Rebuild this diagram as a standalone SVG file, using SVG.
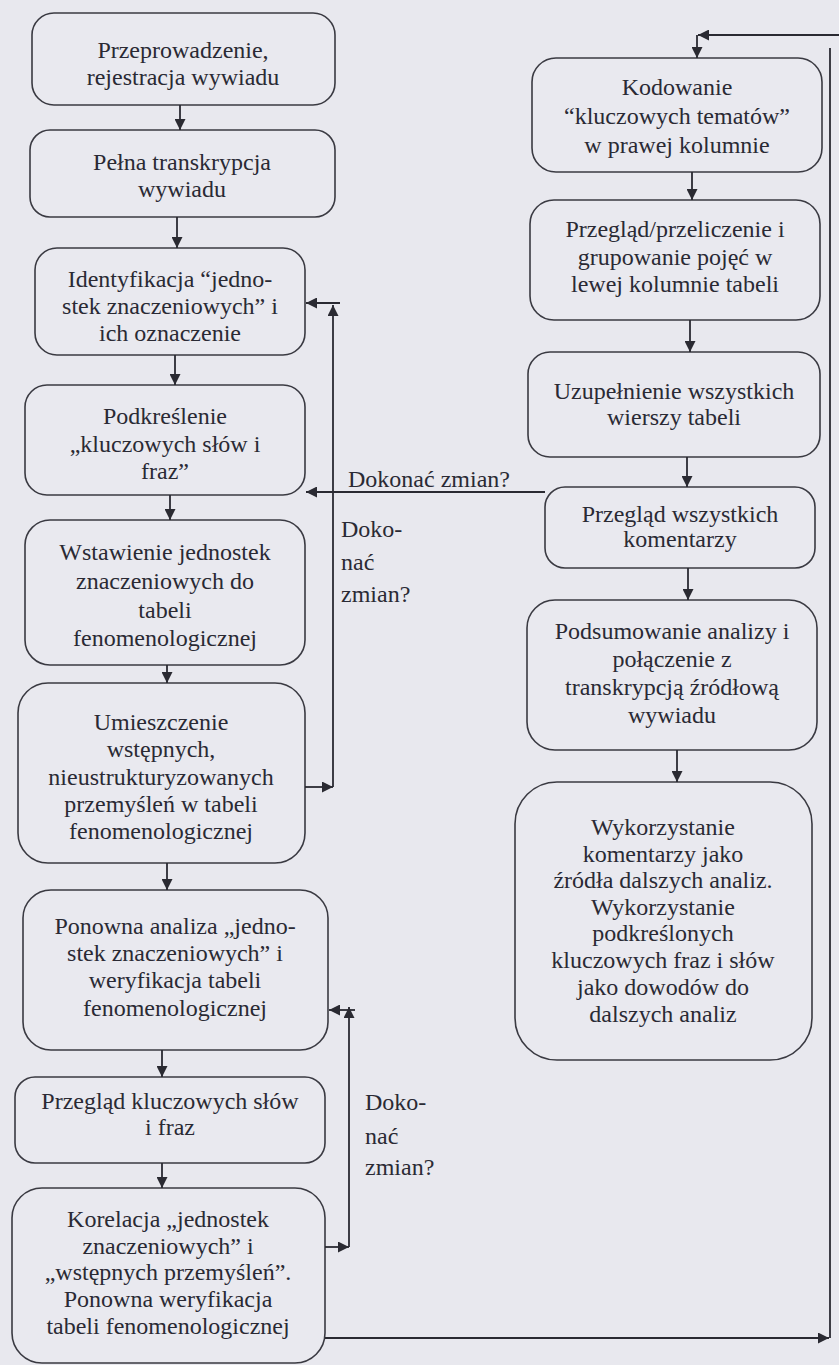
<svg xmlns="http://www.w3.org/2000/svg" width="839" height="1365" viewBox="0 0 839 1365">
<defs>
<style>
.box{fill:#e9e9ef;stroke:#3a3a42;stroke-width:1.6}
.t{font-family:"Liberation Serif","Times New Roman",serif;font-size:24px;fill:#2a2a34;text-anchor:middle}
.l{font-family:"Liberation Serif","Times New Roman",serif;font-size:24px;fill:#2a2a34}
.c{fill:none;stroke:#2a2a32;stroke-width:1.8}
</style>
<marker id="ah" viewBox="0 0 10 10" refX="10" refY="5" markerWidth="11" markerHeight="11" markerUnits="userSpaceOnUse" orient="auto">
<path d="M0,0 L10,5 L0,10 Z" fill="#2a2a32"/>
</marker>
</defs>
<rect width="839" height="1365" fill="#e8e8ee"/>

<g id="n1"><rect class="box" x="32" y="13" width="303" height="92" rx="22"/>
<text class="t" x="183" y="58">Przeprowadzenie,</text><text class="t" x="183" y="85">rejestracja wywiadu</text></g>

<g id="n2"><rect class="box" x="30" y="130" width="305" height="87" rx="20"/>
<text class="t" x="182" y="170">Pełna transkrypcja</text><text class="t" x="182" y="197">wywiadu</text></g>

<g id="n3"><rect class="box" x="35" y="248" width="270" height="107" rx="22"/>
<text class="t" x="170" y="287">Identyfikacja “jedno-</text><text class="t" x="170" y="314">stek znaczeniowych” i</text><text class="t" x="170" y="341">ich oznaczenie</text></g>

<g id="n4"><rect class="box" x="25" y="385" width="280" height="110" rx="22"/>
<text class="t" x="165" y="424">Podkreślenie</text><text class="t" x="165" y="452">„kluczowych słów i</text><text class="t" x="165" y="479">fraz”</text></g>

<g id="n5"><rect class="box" x="25" y="520" width="280" height="145" rx="25"/>
<text class="t" x="165" y="560">Wstawienie jednostek</text><text class="t" x="165" y="589">znaczeniowych do</text><text class="t" x="165" y="618">tabeli</text><text class="t" x="165" y="646">fenomenologicznej</text></g>

<g id="n6"><rect class="box" x="18" y="683" width="287" height="180" rx="30"/>
<text class="t" x="161" y="730">Umieszczenie</text><text class="t" x="161" y="757">wstępnych,</text><text class="t" x="161" y="785">nieustrukturyzowanych</text><text class="t" x="161" y="812">przemyśleń w tabeli</text><text class="t" x="161" y="839">fenomenologicznej</text></g>

<g id="n7"><rect class="box" x="23" y="890" width="305" height="160" rx="28"/>
<text class="t" x="175" y="934">Ponowna analiza „jedno-</text><text class="t" x="175" y="961">stek znaczeniowych” i</text><text class="t" x="175" y="988">weryfikacja tabeli</text><text class="t" x="175" y="1016">fenomenologicznej</text></g>

<g id="n8"><rect class="box" x="15" y="1077" width="310" height="86" rx="20"/>
<text class="t" x="170" y="1109">Przegląd kluczowych słów</text><text class="t" x="170" y="1135">i fraz</text></g>

<g id="n9"><rect class="box" x="12" y="1188" width="313" height="175" rx="30"/>
<text class="t" x="168" y="1227">Korelacja „jednostek</text><text class="t" x="168" y="1254">znaczeniowych” i</text><text class="t" x="168" y="1280">„wstępnych przemyśleń”.</text><text class="t" x="168" y="1307">Ponowna weryfikacja</text><text class="t" x="168" y="1334">tabeli fenomenologicznej</text></g>

<g id="r1"><rect class="box" x="532" y="58" width="290" height="114" rx="24"/>
<text class="t" x="677" y="95">Kodowanie</text><text class="t" x="677" y="124">“kluczowych tematów”</text><text class="t" x="677" y="153">w prawej kolumnie</text></g>

<g id="r2"><rect class="box" x="530" y="200" width="290" height="120" rx="24"/>
<text class="t" x="675" y="237">Przegląd/przeliczenie i</text><text class="t" x="675" y="265">grupowanie pojęć w</text><text class="t" x="675" y="292">lewej kolumnie tabeli</text></g>

<g id="r3"><rect class="box" x="528" y="352" width="292" height="105" rx="22"/>
<text class="t" x="674" y="399">Uzupełnienie wszystkich</text><text class="t" x="674" y="425">wierszy tabeli</text></g>

<g id="r4"><rect class="box" x="545" y="487" width="270" height="81" rx="20"/>
<text class="t" x="680" y="522">Przegląd wszystkich</text><text class="t" x="680" y="547">komentarzy</text></g>

<g id="r5"><rect class="box" x="527" y="600" width="290" height="150" rx="28"/>
<text class="t" x="672" y="639">Podsumowanie analizy i</text><text class="t" x="672" y="667">połączenie z</text><text class="t" x="672" y="695">transkrypcją źródłową</text><text class="t" x="672" y="723">wywiadu</text></g>

<g id="r6"><rect class="box" x="515" y="782" width="297" height="278" rx="42"/>
<text class="t" x="663" y="835">Wykorzystanie</text><text class="t" x="663" y="862">komentarzy jako</text><text class="t" x="663" y="888">źródła dalszych analiz.</text><text class="t" x="663" y="915">Wykorzystanie</text><text class="t" x="663" y="941">podkreślonych</text><text class="t" x="663" y="968">kluczowych fraz i słów</text><text class="t" x="663" y="995">jako dowodów do</text><text class="t" x="663" y="1022">dalszych analiz</text></g>

<g id="connectors">
<line class="c" x1="180" y1="105" x2="180" y2="130" marker-end="url(#ah)"/>
<line class="c" x1="177" y1="217" x2="177" y2="248" marker-end="url(#ah)"/>
<line class="c" x1="175" y1="355" x2="175" y2="385" marker-end="url(#ah)"/>
<line class="c" x1="170" y1="495" x2="170" y2="520" marker-end="url(#ah)"/>
<line class="c" x1="167" y1="665" x2="167" y2="683" marker-end="url(#ah)"/>
<line class="c" x1="167" y1="863" x2="167" y2="890" marker-end="url(#ah)"/>
<line class="c" x1="162" y1="1050" x2="162" y2="1077" marker-end="url(#ah)"/>
<line class="c" x1="162" y1="1163" x2="162" y2="1188" marker-end="url(#ah)"/>

<line class="c" x1="692" y1="172" x2="692" y2="200" marker-end="url(#ah)"/>
<line class="c" x1="690" y1="320" x2="690" y2="352" marker-end="url(#ah)"/>
<line class="c" x1="687" y1="457" x2="687" y2="487" marker-end="url(#ah)"/>
<line class="c" x1="688" y1="568" x2="688" y2="600" marker-end="url(#ah)"/>
<line class="c" x1="677" y1="750" x2="677" y2="782" marker-end="url(#ah)"/>

<!-- loop 1 -->
<line class="c" x1="305" y1="787" x2="333" y2="787" marker-end="url(#ah)"/>
<line class="c" x1="333" y1="787" x2="333" y2="305" marker-end="url(#ah)"/>
<line class="c" x1="340" y1="303" x2="306" y2="303" marker-end="url(#ah)"/>

<!-- Dokonać zmian? horizontal -->
<line class="c" x1="545" y1="492" x2="306" y2="492" marker-end="url(#ah)"/>

<!-- loop 2 -->
<line class="c" x1="325" y1="1247" x2="349" y2="1247" marker-end="url(#ah)"/>
<line class="c" x1="349" y1="1247" x2="349" y2="1007" marker-end="url(#ah)"/>
<line class="c" x1="355" y1="1010" x2="329" y2="1010" marker-end="url(#ah)"/>

<!-- big return loop -->
<line class="c" x1="325" y1="1338" x2="829" y2="1338" marker-end="url(#ah)"/>
<line class="c" x1="830" y1="1338" x2="830" y2="48"/>
<line class="c" x1="839" y1="35" x2="698" y2="35" marker-end="url(#ah)"/>
<line class="c" x1="697" y1="35" x2="697" y2="58" marker-end="url(#ah)"/>
</g>

<g id="labels">
<text class="l" x="348" y="487">Dokonać zmian?</text>
<text class="l" x="341" y="537">Doko-</text><text class="l" x="341" y="570">nać</text><text class="l" x="341" y="602">zmian?</text>
<text class="l" x="365" y="1110">Doko-</text><text class="l" x="365" y="1144">nać</text><text class="l" x="365" y="1175">zmian?</text>
</g>
</svg>
